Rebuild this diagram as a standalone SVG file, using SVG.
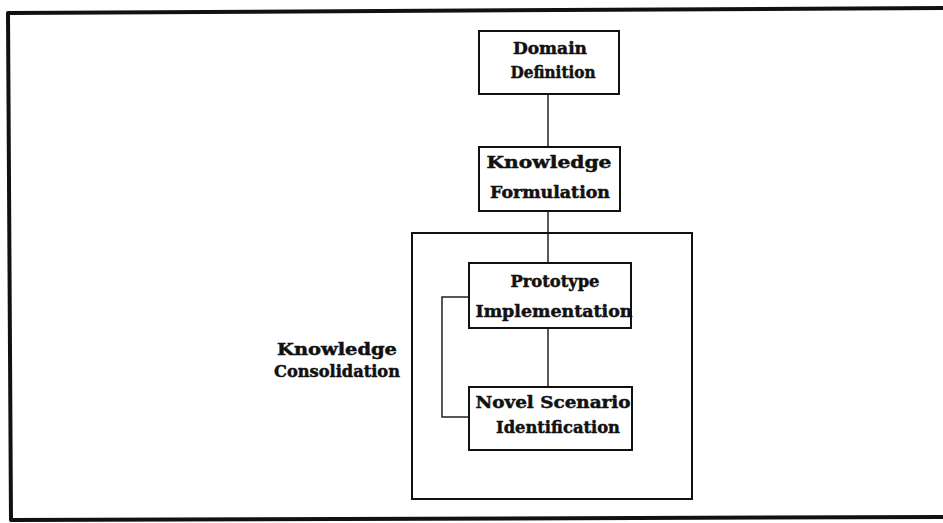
<svg xmlns="http://www.w3.org/2000/svg" width="943" height="523" viewBox="0 0 943 523">
<style>
.box{fill:none;stroke:#111;stroke-width:2}
.frame{fill:none;stroke:#111;stroke-width:4;stroke-linejoin:round}
.conn{fill:none;stroke:#222;stroke-width:1.5}
.t{font-family:"DejaVu Serif","Liberation Serif",serif;font-weight:bold;font-size:17px;fill:#111;stroke:#111;stroke-width:0.5;text-anchor:middle}
</style>
<rect width="943" height="523" fill="#fff"/>
<path class="frame" d="M943,8 L8,13 L11,520 L943,517"/>
<g id="connectors">
<line class="conn" x1="548" y1="94" x2="548" y2="147"/>
<line class="conn" x1="548" y1="211" x2="548" y2="263"/>
<line class="conn" x1="548" y1="328" x2="548" y2="387"/>
<polyline class="conn" points="469,297 442,297 442,417 469,417"/>
</g>
<g id="knowledge-consolidation">
<rect class="box" x="412" y="233" width="280" height="266"/>
<text class="t" x="337" y="355" textLength="120" lengthAdjust="spacingAndGlyphs">Knowledge</text>
<text class="t" x="337" y="377" textLength="126" lengthAdjust="spacingAndGlyphs">Consolidation</text>
</g>
<g id="domain-definition">
<rect class="box" x="479" y="31" width="140" height="63"/>
<text class="t" x="550" y="54" textLength="74" lengthAdjust="spacingAndGlyphs">Domain</text>
<text class="t" x="553" y="78" textLength="85" lengthAdjust="spacingAndGlyphs">Definition</text>
</g>
<g id="knowledge-formulation">
<rect class="box" x="479" y="147" width="141" height="64"/>
<text class="t" x="549" y="168" textLength="125" lengthAdjust="spacingAndGlyphs">Knowledge</text>
<text class="t" x="550" y="198" textLength="120" lengthAdjust="spacingAndGlyphs">Formulation</text>
</g>
<g id="prototype-implementation">
<rect class="box" x="469" y="263" width="162" height="65"/>
<text class="t" x="555" y="287" textLength="89" lengthAdjust="spacingAndGlyphs">Prototype</text>
<text class="t" x="554" y="317" textLength="157" lengthAdjust="spacingAndGlyphs">Implementation</text>
</g>
<g id="novel-scenario-identification">
<rect class="box" x="469" y="387" width="163" height="63"/>
<text class="t" x="553" y="408" textLength="155" lengthAdjust="spacingAndGlyphs">Novel Scenario</text>
<text class="t" x="558" y="433" textLength="124" lengthAdjust="spacingAndGlyphs">Identification</text>
</g>
</svg>
